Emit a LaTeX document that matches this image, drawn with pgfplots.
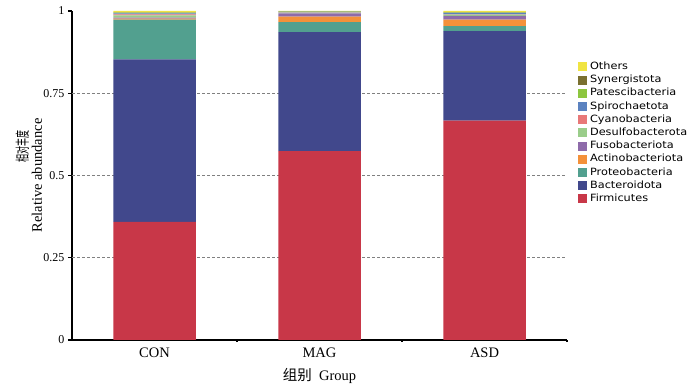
\documentclass[border=0pt]{standalone}
\usepackage{pgfplots}
\pgfplotsset{compat=1.18}
\usepackage{fontspec}
\setmainfont{Liberation Serif}
\newfontfamily\legfont[FakeStretch=1.13]{DejaVu Sans}
\newfontfamily\cjk{Noto Sans CJK SC}
\definecolor{cFirm}{RGB}{200,55,72}
\definecolor{cBact}{RGB}{65,72,140}
\definecolor{cProt}{RGB}{82,160,143}
\definecolor{cActi}{RGB}{244,145,58}
\definecolor{cFuso}{RGB}{142,107,170}
\definecolor{cDesu}{RGB}{154,205,138}
\definecolor{cCyan}{RGB}{232,120,120}
\definecolor{cSpir}{RGB}{91,130,192}
\definecolor{cPate}{RGB}{141,198,63}
\definecolor{cSyne}{RGB}{122,112,48}
\definecolor{cOthe}{RGB}{240,228,66}
\begin{document}
\begin{tikzpicture}
\path[use as bounding box] (-72pt,-50pt) rectangle (628pt,340pt);
\begin{axis}[
  at={(0,0)}, anchor=south west,
  scale only axis, width=495pt, height=329pt,
  ybar stacked, bar width=0.5,
  xmin=-0.5, xmax=2.5, ymin=0, ymax=1,
  axis lines*=left,
  axis line style={line width=1.3pt, -},
  tick align=outside,
  major tick length=4pt,
  tick style={line width=1.2pt, black},
  xtick={0.5,1.5,2.5}, xticklabels={},
  xtick style={/pgfplots/major tick length=2pt},
  extra x ticks={0,1,2},
  extra x tick labels={CON,MAG,ASD},
  extra x tick style={tick style={draw=none}},
  ytick={0,0.25,0.5,0.75,1},
  yticklabels={0,0.25,0.5,0.75,1},
  extra y ticks={0.25,0.5,0.75},
  extra y tick labels={},
  extra y tick style={grid=major, tick style={draw=none}},
  major grid style={dash pattern=on 3pt off 2pt, gray, line width=0.7pt},
  yticklabel style={font=\fontsize{12}{12}\selectfont},
  xticklabel style={font=\fontsize{14.5}{14.5}\selectfont},
  xlabel={{\cjk 组别}\ \ Group},
  xlabel style={font=\fontsize{14.5}{14.5}\selectfont, at={(axis description cs:0.5,-0.109)}, anchor=center},
  ylabel={\scalebox{0.55}[1]{\cjk\fontsize{14.5}{14}\selectfont 相对丰度}\hspace*{12pt}\\Relative abundance},
  ylabel style={font=\fontsize{14.5}{14}\selectfont, align=right, at={(axis description cs:-0.087,0.5)}, anchor=center},
  reverse legend,
  legend cell align=left,
  legend style={at={(axis description cs:1.022,0.851)}, anchor=north west, draw=none, fill=none,
    inner sep=0pt, row sep=0pt, font=\legfont\fontsize{10}{12}\selectfont,
    nodes={text height=7.5pt, text depth=2.2pt, inner ysep=1.75pt, inner xsep=3pt}},
  legend image code/.code={\fill[#1] (0pt,-4.5pt) rectangle (9pt,4.5pt);},
]
\addplot[fill=cFirm, draw=none] coordinates {(0,0.359) (1,0.574) (2,0.667)};
\addlegendentry{Firmicutes}
\addplot[fill=cBact, draw=none] coordinates {(0,0.494) (1,0.362) (2,0.272)};
\addlegendentry{Bacteroidota}
\addplot[fill=cProt, draw=none] coordinates {(0,0.121) (1,0.030) (2,0.015)};
\addlegendentry{Proteobacteria}
\addplot[fill=cActi, draw=none] coordinates {(0,0.003) (1,0.017) (2,0.020)};
\addlegendentry{Actinobacteriota}
\addplot[fill=cFuso, draw=none] coordinates {(0,0.003) (1,0.010) (2,0.011)};
\addlegendentry{Fusobacteriota}
\addplot[fill=cDesu, draw=none] coordinates {(0,0.007) (1,0.002) (2,0.004)};
\addlegendentry{Desulfobacterota}
\addplot[fill=cCyan, draw=none] coordinates {(0,0.003) (1,0.001) (2,0.001)};
\addlegendentry{Cyanobacteria}
\addplot[fill=cSpir, draw=none] coordinates {(0,0.003) (1,0.001) (2,0.004)};
\addlegendentry{Spirochaetota}
\addplot[fill=cPate, draw=none] coordinates {(0,0.002) (1,0.001) (2,0.001)};
\addlegendentry{Patescibacteria}
\addplot[fill=cSyne, draw=none] coordinates {(0,0.001) (1,0.0005) (2,0.001)};
\addlegendentry{Synergistota}
\addplot[fill=cOthe, draw=none] coordinates {(0,0.004) (1,0.0015) (2,0.004)};
\addlegendentry{Others}
\end{axis}
\end{tikzpicture}
\end{document}
